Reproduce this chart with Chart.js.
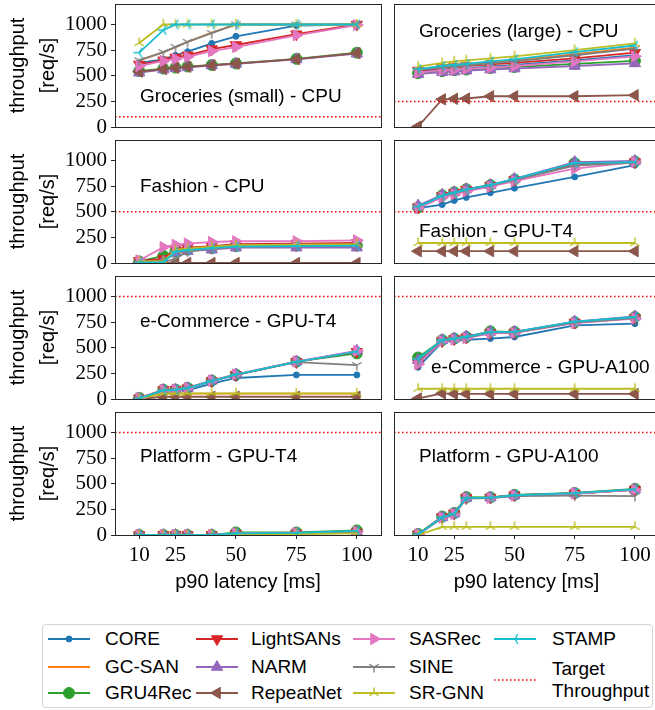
<!DOCTYPE html>
<html>
<head>
<meta charset="utf-8">
<script src="https://cdn.jsdelivr.net/npm/chart.js@4.4.1/dist/chart.umd.min.js"></script>
<style>
  body { margin: 0; width: 655px; height: 710px; overflow: hidden; background: #fff; position: relative; font-family: "Liberation Sans", Arial, sans-serif; }
  canvas.panel { position: absolute; }
  #legendBox { position: absolute; left: 42px; top: 624px; width: 611px; height: 84px; border: 1px solid #d4d4d4; border-radius: 4px; box-sizing: border-box; background: #fff; }
  .lgText { position: absolute; font-size: 19px; line-height: 22px; color: #000; white-space: nowrap; }
  .lgIcon { position: absolute; }
</style>
</head>
<body>
<div id="legendBox"></div>
<script>
// x values (p90 latency, ms) and axis ticks
const latency = [10, 20, 25, 30, 40, 50, 75, 100];
const xTicks = [10, 25, 50, 75, 100];
const yTicks = [0, 250, 500, 750, 1000];

const models = ["CORE", "GC-SAN", "GRU4Rec", "LightSANs", "NARM", "RepeatNet", "SASRec", "SINE", "SR-GNN", "STAMP"];
const colors = ["#1f77b4", "#ff7f0e", "#2ca02c", "#d62728", "#9467bd", "#8c564b", "#e377c2", "#7f7f7f", "#bcbd22", "#17becf"];

const panelTitles = [
    "Groceries (small) - CPU", "Groceries (large) - CPU",
    "Fashion - CPU", "Fashion - GPU-T4",
    "e-Commerce - GPU-T4", "e-Commerce - GPU-A100",
    "Platform - GPU-T4", "Platform - GPU-A100",
];
const targets = [100, 250, 500, 500, 1000, 1000, 1000, 1000];

// throughput [req/s], one row per model (same order as `models`)
const grocSmallCPU = [
    [625, 660, 700, 735, 815, 885, 990, 1000],
    [650, 730, 780, 830, 920, 1000, 1000, 1000],
    [545, 570, 580, 590, 605, 620, 665, 725],
    [610, 650, 678, 700, 760, 800, 905, 1000],
    [530, 560, 572, 582, 600, 615, 660, 715],
    [540, 565, 577, 587, 603, 618, 662, 720],
    [595, 645, 665, 685, 740, 780, 895, 995],
    [650, 730, 780, 830, 915, 1000, 1000, 1000],
    [820, 1000, 1000, 1000, 1000, 1000, 1000, 1000],
    [725, 945, 1000, 1000, 1000, 1000, 1000, 1000],
];
const grocLargeCPU = [
    [540, 560, 570, 575, 590, 605, 650, 700],
    [560, 590, 600, 610, 630, 650, 710, 775],
    [525, 545, 555, 560, 575, 585, 615, 645],
    [550, 575, 585, 595, 610, 625, 670, 725],
    [515, 535, 540, 550, 560, 570, 595, 620],
    [5, 270, 275, 278, 300, 300, 300, 310],
    [530, 555, 560, 570, 580, 595, 640, 690],
    [555, 580, 590, 600, 620, 640, 700, 765],
    [590, 625, 640, 650, 670, 690, 750, 815],
    [565, 595, 605, 615, 640, 660, 730, 795],
];
const fashionCPU = [
    [10, 20, 120, 135, 150, 165, 172, 178],
    [15, 20, 125, 140, 155, 170, 178, 185],
    [15, 70, 115, 130, 145, 165, 170, 170],
    [20, 40, 140, 150, 165, 185, 190, 195],
    [10, 15, 100, 115, 130, 150, 150, 150],
    [0, 0, 0, 0, 0, 0, 0, 0],
    [25, 155, 178, 190, 205, 212, 212, 220],
    [5, 5, 45, 110, 140, 160, 165, 168],
    [15, 15, 130, 140, 160, 175, 180, 185],
    [5, 5, 110, 125, 145, 160, 165, 170],
];
const fashionT4 = [
    [535, 570, 610, 640, 685, 730, 840, 955],
    [545, 655, 685, 715, 755, 810, 965, 990],
    [540, 660, 690, 720, 760, 815, 975, 990],
    [545, 655, 685, 715, 755, 810, 960, 985],
    [560, 665, 690, 720, 760, 820, 985, 995],
    [115, 115, 115, 115, 115, 115, 115, 115],
    [535, 640, 670, 700, 745, 800, 920, 985],
    [550, 655, 680, 710, 755, 810, 950, 980],
    [195, 195, 195, 195, 195, 195, 195, 195],
    [550, 655, 685, 715, 760, 820, 975, 985],
];
const ecomT4 = [
    [5, 85, 90, 85, 150, 205, 235, 235],
    [5, 50, 52, 52, 52, 52, 52, 52],
    [10, 90, 92, 108, 180, 238, 365, 445],
    [5, 88, 90, 105, 175, 235, 362, 460],
    [5, 88, 90, 105, 178, 238, 365, 470],
    [0, 20, 22, 22, 22, 22, 22, 22],
    [8, 88, 92, 108, 180, 240, 365, 468],
    [5, 85, 88, 105, 175, 235, 360, 330],
    [5, 55, 55, 55, 55, 55, 55, 55],
    [5, 85, 90, 105, 175, 238, 362, 462],
];
const ecomA100 = [
    [310, 555, 570, 578, 590, 605, 718, 735],
    [370, 570, 585, 600, 650, 650, 745, 790],
    [405, 575, 590, 605, 660, 655, 750, 800],
    [350, 565, 585, 600, 645, 648, 745, 790],
    [380, 575, 590, 610, 655, 655, 755, 805],
    [5, 55, 50, 50, 50, 50, 50, 50],
    [340, 565, 580, 595, 640, 645, 740, 785],
    [375, 570, 585, 600, 650, 650, 745, 790],
    [100, 100, 100, 100, 100, 100, 100, 100],
    [390, 575, 590, 605, 655, 655, 755, 800],
];
const platT4 = [
    [0, 0, 0, 0, 0, 10, 15, 25],
    [0, 0, 0, 0, 0, 10, 15, 20],
    [0, 0, 0, 0, 0, 25, 25, 45],
    [0, 0, 0, 0, 0, 12, 15, 25],
    [0, 0, 0, 0, 0, 12, 15, 30],
    [null, null, null, null, null, null, null, null],
    [0, 0, 0, 0, 0, 15, 18, 30],
    [0, 0, 0, 0, 0, 10, 12, 20],
    [0, 0, 0, 0, 0, 8, 10, 15],
    [0, 0, 0, 0, 0, 15, 20, 40],
];
const platA100 = [
    [5, 170, 205, 360, 362, 385, 405, 440],
    [5, 175, 210, 362, 365, 388, 405, 440],
    [10, 180, 215, 370, 368, 392, 410, 450],
    [5, 175, 210, 362, 365, 388, 405, 442],
    [5, 172, 208, 360, 365, 385, 405, 445],
    [null, null, null, null, null, null, null, null],
    [5, 170, 205, 360, 362, 385, 405, 440],
    [5, 165, 200, 355, 360, 380, 385, 380],
    [0, 80, 80, 80, 80, 80, 80, 80],
    [5, 172, 208, 362, 365, 388, 408, 445],
];
const panels = [grocSmallCPU, grocLargeCPU, fashionCPU, fashionT4, ecomT4, ecomA100, platT4, platA100];

// layout (page pixels)
const rowTops = [4, 140, 276, 412];
const plotH = 123;
const edge = 12; // room around the plot area for the end tick labels
const titleOffsets = [[25, 98], [25, 33], [25, 52], [25, 97], [25, 51], [37, 97], [25, 50], [25, 50]];

const SANS = '"Liberation Sans", Arial, sans-serif';
const SERIF = '"Liberation Serif", "DejaVu Serif", serif';

// matplotlib-like tri markers ('1', '2', '3')
function triMarker(color, angleDeg) {
    const c = document.createElement("canvas");
    c.width = 14;
    c.height = 14;
    const g = c.getContext("2d");
    g.strokeStyle = color;
    g.lineWidth = 1.4;
    g.translate(7, 7);
    g.beginPath();
    for (let k = 0; k < 3; k++) {
        const a = ((angleDeg + k * 120) * Math.PI) / 180;
        g.moveTo(0, 0);
        g.lineTo(5.5 * Math.cos(a), 5.5 * Math.sin(a));
    }
    g.stroke();
    return c;
}

const markers = [
    { style: "circle", r: 3, rot: 0 },
    { style: false, r: 0, rot: 0 },
    { style: "circle", r: 5.5, rot: 0 },
    { style: "triangle", r: 6.5, rot: 180 },
    { style: "triangle", r: 6.5, rot: 0 },
    { style: "triangle", r: 6.5, rot: -90 },
    { style: "triangle", r: 6.5, rot: 90 },
    { style: triMarker(colors[7], 90), r: 6, rot: 0 },
    { style: triMarker(colors[8], -90), r: 6, rot: 0 },
    { style: triMarker(colors[9], 180), r: 6, rot: 0 },
];

const panelDecor = {
    id: "panelDecor",
    afterDatasetsDraw(chart) {
        const a = chart.chartArea;
        const ctx = chart.ctx;
        ctx.save();
        ctx.strokeStyle = "#262626";
        ctx.lineWidth = 1;
        ctx.strokeRect(Math.round(a.left) + 0.5, Math.round(a.top) + 0.5, Math.round(a.right - a.left), Math.round(a.bottom - a.top));
        ctx.restore();
    },
    afterDraw(chart, args, opts) {
        const a = chart.chartArea;
        const ctx = chart.ctx;
        ctx.save();
        ctx.font = `19px ${SANS}`;
        ctx.fillStyle = "#000";
        ctx.textBaseline = "alphabetic";
        ctx.fillText(opts.text, a.left + opts.dx, a.top + opts.dy);
        ctx.restore();
    },
};

// no automatic label padding: keep plot areas aligned across panels
function noPad(s) {
    s.paddingTop = 0;
    s.paddingBottom = 0;
    s.paddingLeft = 0;
    s.paddingRight = 0;
}

panels.forEach((rows, p) => {
    const col = p % 2;
    const row = Math.floor(p / 2);
    const isBottom = row === 3;

    const canvas = document.createElement("canvas");
    canvas.className = "panel";
    const left = col === 0 ? 0 : 392;
    const w = col === 0 ? 382 : 270;
    const h = isBottom ? edge + plotH + 60 : edge + plotH + edge;
    canvas.width = w;
    canvas.height = h;
    canvas.style.left = left + "px";
    canvas.style.top = rowTops[row] - edge + "px";
    canvas.style.width = w + "px";
    canvas.style.height = h + "px";
    document.body.appendChild(canvas);

    const datasets = rows.map((vals, i) => ({
        label: models[i],
        data: vals.map((v, k) => ({ x: latency[k], y: v })),
        borderColor: colors[i],
        backgroundColor: colors[i],
        pointBackgroundColor: colors[i],
        pointBorderColor: colors[i],
        borderWidth: 1.8,
        pointStyle: markers[i].style,
        pointRadius: markers[i].r,
        pointRotation: markers[i].rot,
        pointBorderWidth: 1,
        tension: 0,
        clip: 0,
        order: 10 - i,
    }));
    datasets.push({
        label: "Target Throughput",
        data: [{ x: 0, y: targets[p] }, { x: 110, y: targets[p] }],
        borderColor: "#ff0000",
        borderWidth: 1.5,
        borderDash: [1.5, 2.5],
        pointRadius: 0,
        clip: 0,
        order: 0,
    });

    new Chart(canvas, {
        type: "line",
        data: { datasets },
        plugins: [panelDecor],
        options: {
            responsive: false,
            animation: false,
            devicePixelRatio: 1,
            layout: {
                autoPadding: false,
                padding: { left: col === 0 ? 0 : 2, right: col === 0 ? 1 : 3, top: edge, bottom: isBottom ? 0 : edge },
            },
            plugins: {
                legend: { display: false },
                tooltip: { enabled: false },
                panelDecor: { text: panelTitles[p], dx: titleOffsets[p][0], dy: titleOffsets[p][1] },
            },
            scales: {
                x: {
                    type: "linear",
                    min: 0,
                    max: 110,
                    display: isBottom,
                    afterBuildTicks: (s) => {
                        s.ticks = xTicks.map((v) => ({ value: v }));
                    },
                    afterFit: (s) => {
                        s.height = isBottom ? 60 : 0;
                        noPad(s);
                    },
                    grid: { drawOnChartArea: false, drawTicks: true, tickLength: 4, color: "#262626" },
                    border: { display: false },
                    ticks: { autoSkip: false, maxRotation: 0, padding: 4, color: "#000", font: { family: SERIF, size: 21 } },
                    title: {
                        display: true,
                        text: "p90 latency [ms]",
                        color: "#000",
                        font: { family: SANS, size: 20 },
                        padding: { top: 0, bottom: 1 },
                    },
                },
                y: {
                    type: "linear",
                    min: 0,
                    max: 1200,
                    display: col === 0,
                    afterBuildTicks: (s) => {
                        s.ticks = yTicks.map((v) => ({ value: v }));
                    },
                    afterFit: (s) => {
                        s.width = col === 0 ? 115 : 0;
                        noPad(s);
                    },
                    grid: { drawOnChartArea: false, drawTicks: true, tickLength: 4, color: "#262626" },
                    border: { display: false },
                    ticks: {
                        autoSkip: false,
                        padding: 4,
                        color: "#000",
                        font: { family: SERIF, size: 21 },
                        callback: (v) => String(v),
                    },
                    title: {
                        display: true,
                        text: ["throughput", "[req/s]"],
                        color: "#000",
                        font: { family: SANS, size: 20, lineHeight: 1.5 },
                        padding: { top: 3, bottom: 0 },
                    },
                },
            },
        },
    });
});

// legend (column-major, 4 columns x 3 rows)
const legendIconX = [48, 196, 353, 494];
const legendTextX = [105, 251, 409, 552];
const legendRowY = [639, 667, 693];

function addLegendIcon(x, y, draw) {
    const c = document.createElement("canvas");
    c.className = "lgIcon";
    c.width = 42;
    c.height = 18;
    c.style.left = x + "px";
    c.style.top = y - 9 + "px";
    document.body.appendChild(c);
    draw(c.getContext("2d"));
}

function addLegendText(x, y, text) {
    const d = document.createElement("div");
    d.className = "lgText";
    d.style.left = x + "px";
    d.style.top = y - 11 + "px";
    d.textContent = text;
    document.body.appendChild(d);
}

models.forEach((name, i) => {
    const col = Math.floor(i / 3);
    const row = i % 3;
    const y = legendRowY[row];
    addLegendIcon(legendIconX[col], y, (g) => {
        g.strokeStyle = colors[i];
        g.lineWidth = 1.8;
        g.beginPath();
        g.moveTo(0, 9);
        g.lineTo(42, 9);
        g.stroke();
        if (markers[i].style) {
            g.fillStyle = colors[i];
            g.lineWidth = 1;
            Chart.helpers.drawPoint(g, { pointStyle: markers[i].style, rotation: markers[i].rot, radius: markers[i].r, borderWidth: 1 }, 21, 9);
        }
    });
    addLegendText(legendTextX[col], y, name);
});

addLegendIcon(legendIconX[3], 680, (g) => {
    g.strokeStyle = "#ff0000";
    g.lineWidth = 1.5;
    g.setLineDash([1.5, 2.5]);
    g.beginPath();
    g.moveTo(0, 9);
    g.lineTo(42, 9);
    g.stroke();
});
addLegendText(legendTextX[3], 669, "Target");
addLegendText(legendTextX[3], 691, "Throughput");
</script>
</body>
</html>
